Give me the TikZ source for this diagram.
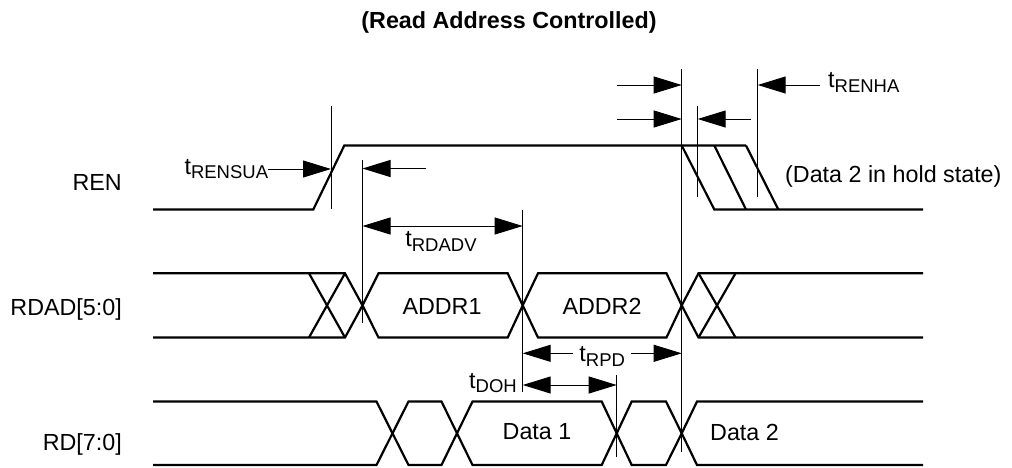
\documentclass[tikz,border=0pt]{standalone}
\usepackage{fontspec}
\setmainfont{Liberation Sans}
\usetikzlibrary{arrows.meta,positioning}

% timing parameter: t with a lowered, smaller suffix
\newcommand{\tpar}[1]{t\raisebox{-4.5pt}{\fontsize{18.5}{20}\selectfont #1}}

\begin{document}
\begin{tikzpicture}[x=1pt,y=-1pt,
        font=\fontsize{23.3}{28}\selectfont,
        sig/.style={line width=2.2pt,line join=miter},
        vline/.style={line width=1pt},
        tarr/.style={line width=1pt,-{Triangle[length=28pt,width=17pt]}},
        tarrs/.style={line width=1pt,{Triangle[length=28pt,width=17pt]}-{Triangle[length=28pt,width=17pt]}},
        lbl/.style={inner sep=0pt}]
        \useasboundingbox (0,0) rectangle (1012,467);

        \node(title) at (509,22) {\bfseries (Read Address Controlled)};

        \node(REN) [lbl,anchor=base east] at (122,190) {REN};
        \node(RDAD)[lbl,anchor=base east] at (122,315) {RDAD[5:0]};
        \node(RD)  [lbl,anchor=base east] at (122,450) {RD[7:0]};

        % REN
        \draw[sig] (153,209.5) -- (313.3,209.5) -- (344.3,145.5) -- (746,145.5);
        \draw[sig] (681.7,145.5) -- (714.3,209.5) -- (923,209.5);
        \draw[sig] (714.3,145.5) -- (746,209.5);
        \draw[sig] (746,145.5) -- (778.3,209.5);

        % RDAD[5:0]
        \draw[sig] (153,273.3) -- (345,273.3) -- (362.5,305.4) -- (345,337.5) -- (153,337.5);
        \draw[sig] (309,273.3) -- (345,337.5) (309,337.5) -- (345,273.3);
        \draw[sig] (362.5,305.4) -- (378.5,273.3) -- (507.7,273.3) -- (522.7,305.4)
                -- (507.7,337.5) -- (378.5,337.5) -- cycle;
        \draw[sig] (522.7,305.4) -- (538,273.3) -- (666.5,273.3) -- (681.7,305.4)
                -- (666.5,337.5) -- (538,337.5) -- cycle;
        \draw[sig] (923,273.3) -- (698.5,273.3) -- (681.7,305.4) -- (698.5,337.5) -- (923,337.5);
        \draw[sig] (698.5,273.3) -- (735.5,337.5) (698.5,337.5) -- (735.5,273.3);
        \node(A1) at (442,306) {ADDR1};
        \node(A2) at (602,306) {ADDR2};

        % RD[7:0]
        \draw[sig] (153,401.5) -- (376.5,401.5) -- (392.5,433.3) -- (376.5,465) -- (153,465);
        \draw[sig] (392.5,433.3) -- (408.5,401.5) -- (441.5,401.5) -- (457,433.3)
                -- (441.5,465) -- (408.5,465) -- cycle;
        \draw[sig] (457,433.3) -- (472.5,401.5) -- (601.7,401.5) -- (616.7,433.3)
                -- (601.7,465) -- (472.5,465) -- cycle;
        \draw[sig] (616.7,433.3) -- (631.7,401.5) -- (666,401.5) -- (681.7,433.3)
                -- (666,465) -- (631.7,465) -- cycle;
        \draw[sig] (923,401.5) -- (697,401.5) -- (681.7,433.3) -- (697,465) -- (923,465);
        \node(D1) at (537,432) {Data 1};
        \node(D2)[lbl,anchor=west] at (710,432) {Data 2};
        \node(hold)[lbl,anchor=west] at (785,176.7) {(Data 2 in hold state)};

        % reference lines
        \coordinate(V1t) at (331,106);   \coordinate(V1b) at (331,208.5);
        \coordinate(V2t) at (362.5,160); \coordinate(V2b) at (362.5,323);
        \coordinate(V3t) at (522.7,210); \coordinate(V3b) at (522.7,392);
        \coordinate(V4t) at (681.7,69);  \coordinate(V4b) at (681.7,452);
        \coordinate(V5t) at (697.7,106); \coordinate(V5b) at (697.7,197);
        \coordinate(V6t) at (757.7,69);  \coordinate(V6b) at (757.7,197);
        \coordinate(V7t) at (616.7,375); \coordinate(V7b) at (616.7,457);
        \foreach \v in {V1,V2,V3,V4,V5,V6,V7}
                \draw[vline] (\v t) -- (\v b);

        % timing arrows
        \node(tsu)[lbl,anchor=east] at (268.3,169) {\tpar{RENSUA}};
        \draw[tarr] (tsu.east) -- (tsu.east -| V1t);
        \coordinate(B1) at (425.7,168.5);
        \draw[tarr] (B1) -- (B1 -| V2t);

        \coordinate(B2) at (362.5,226);
        \draw[tarrs] (B2) -- (B2 -| V3t);
        \node(tadv)[lbl,anchor=north] at (441,231.5) {\tpar{RDADV}};

        \coordinate(B3) at (617,85);
        \draw[tarr] (B3) -- (B3 -| V4t);
        \coordinate(B4) at (617,119);
        \draw[tarr] (B4) -- (B4 -| V4t);
        \coordinate(B5) at (820,85);
        \draw[tarr] (B5) -- (B5 -| V6t);
        \node(tha)[lbl,anchor=west] at (828,82.7) {\tpar{RENHA}};
        \coordinate(B6) at (750.7,119);
        \draw[tarr] (B6) -- (B6 -| V5t);

        \coordinate(B7) at (522.7,353.3);
        \draw[tarrs] (B7) -- (B7 -| V4t)
                node[midway,fill=white,inner xsep=6.5pt,inner ysep=0pt,yshift=-3.4pt] (trpd) {\tpar{RPD}};
        \coordinate(B8) at (522.7,385);
        \draw[tarrs] (B8) -- (B8 -| V7t);
        \node(tdoh)[lbl,anchor=east] at (517,383) {\tpar{DOH}};
    \end{tikzpicture}
\end{document}
